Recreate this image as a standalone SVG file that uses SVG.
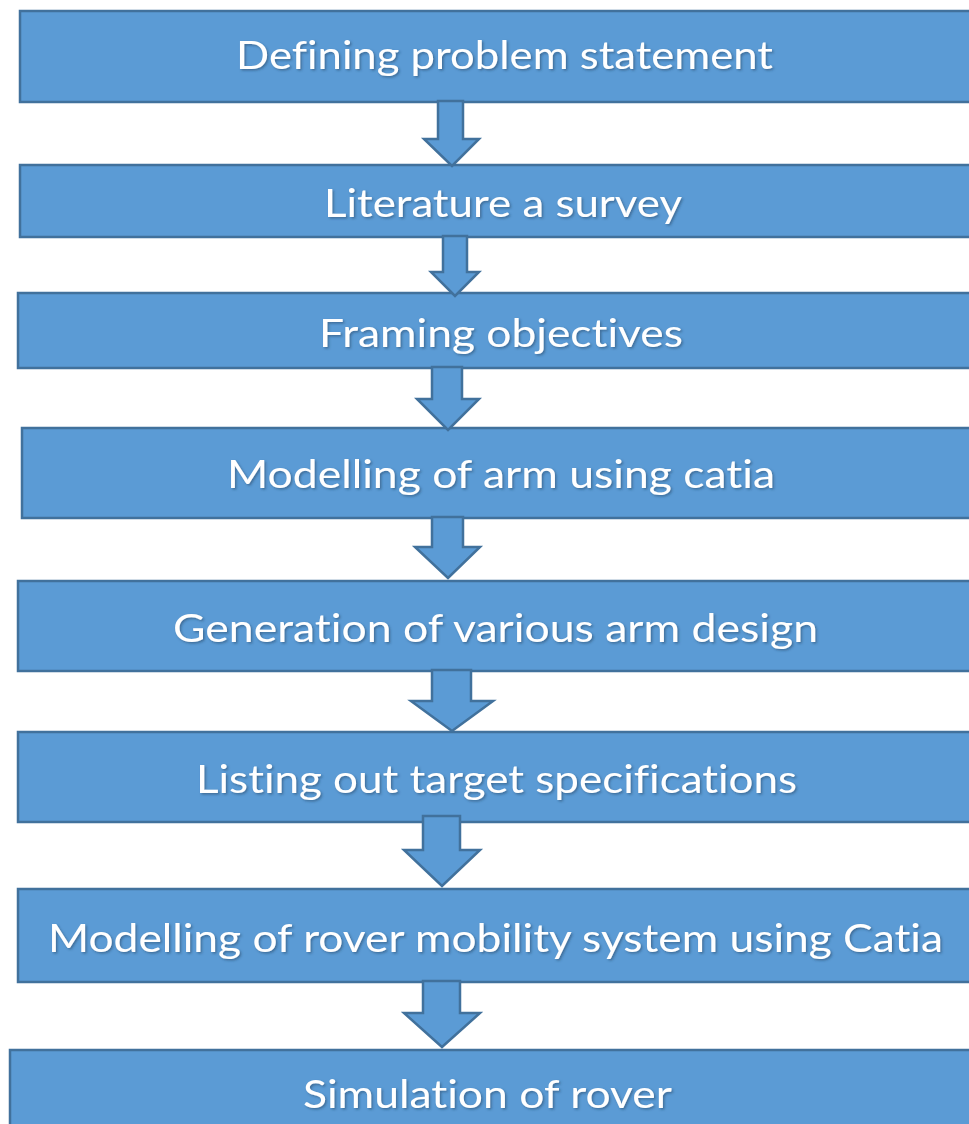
<svg xmlns="http://www.w3.org/2000/svg" width="969" height="1124" viewBox="0 0 969 1124">
  <defs>
    <filter id="txtShadow" x="-5%" y="-20%" width="110%" height="140%">
      <feDropShadow dx="1.5" dy="1.5" stdDeviation="1" flood-color="#1f3a5a" flood-opacity="0.5"/>
    </filter>
  </defs>
  <style>
    .box { fill: #5B9BD5; stroke: #41719C; stroke-width: 2.5; }
    .arrow { fill: #5B9BD5; stroke: #41719C; stroke-width: 2.5; stroke-linejoin: miter; }
    .label { font-family: Lato, "Open Sans", "Liberation Sans", sans-serif; font-size: 39px; fill: #ffffff; font-variant-ligatures: none; font-feature-settings: "liga" 0, "dlig" 0; filter: url(#txtShadow); }
  </style>

  <rect width="969" height="1124" fill="#ffffff"/>

  <g id="step1">
    <rect class="box" x="20" y="11" width="960" height="91"/>
    <text class="label" x="236" y="69" textLength="537" lengthAdjust="spacingAndGlyphs">Defining problem statement</text>
  </g>
  <g id="step2">
    <rect class="box" x="20" y="165" width="960" height="72"/>
    <text class="label" x="324" y="217" textLength="358" lengthAdjust="spacingAndGlyphs">Literature a survey</text>
  </g>
  <g id="step3">
    <rect class="box" x="18" y="293" width="962" height="75"/>
    <text class="label" x="319" y="347" textLength="364" lengthAdjust="spacingAndGlyphs">Framing objectives</text>
  </g>
  <g id="step4">
    <rect class="box" x="22" y="428" width="958" height="90"/>
    <text class="label" x="227" y="488" textLength="548" lengthAdjust="spacingAndGlyphs">Modelling of arm using catia</text>
  </g>
  <g id="step5">
    <rect class="box" x="18" y="581" width="962" height="90"/>
    <text class="label" x="173" y="642" textLength="645" lengthAdjust="spacingAndGlyphs">Generation of various arm design</text>
  </g>
  <g id="step6">
    <rect class="box" x="18" y="732" width="962" height="90"/>
    <text class="label" x="196" y="793" textLength="601" lengthAdjust="spacingAndGlyphs">Listing out target specifications</text>
  </g>
  <g id="step7">
    <rect class="box" x="18" y="889" width="962" height="93"/>
    <text class="label" x="48" y="952" textLength="895" lengthAdjust="spacingAndGlyphs">Modelling of rover mobility system using Catia</text>
  </g>
  <g id="step8">
    <rect class="box" x="10" y="1050" width="970" height="90"/>
    <text class="label" x="303" y="1108" textLength="369" lengthAdjust="spacingAndGlyphs">Simulation of rover</text>
  </g>

  <g id="connectors">
    <polygon class="arrow" points="438,101 463,101 463,139 479,139 452,166 424,139 438,139"/>
    <polygon class="arrow" points="443,236 467,236 467,272 479,272 455,296 431,272 443,272"/>
    <polygon class="arrow" points="432,367 462,367 462,399 479,399 448,430 417,399 432,399"/>
    <polygon class="arrow" points="432,517 463,517 463,547 480,547 448,578 415,547 432,547"/>
    <polygon class="arrow" points="432,670 471,670 471,701 493,701 452,731 411,701 432,701"/>
    <polygon class="arrow" points="423,816 460,816 460,850 480,850 442,886 404,850 423,850"/>
    <polygon class="arrow" points="423,981 460,981 460,1013 480,1013 442,1047 404,1013 423,1013"/>
  </g>
</svg>
